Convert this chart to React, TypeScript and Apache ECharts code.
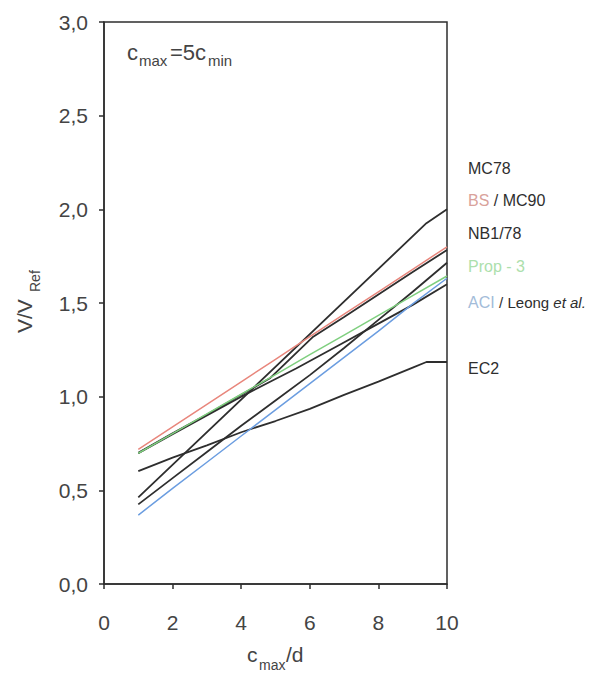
import React, { useEffect, useRef } from "react";
import * as echarts from "echarts";

// ---- data ----
const X = [1, 2, 3, 4, 5, 6, 7, 8, 9, 10];
const bsY = [0.719, 0.839, 0.959, 1.079, 1.199, 1.32, 1.44, 1.56, 1.68, 1.8];
const prop3Y = [0.698, 0.803, 0.908, 1.013, 1.118, 1.224, 1.329, 1.434, 1.539, 1.644];
const nb178Y = [0.425, 0.565, 0.705, 0.845, 0.98, 1.115, 1.26, 1.41, 1.56, 1.715];
const aciY = [0.368, 0.51, 0.65, 0.79, 0.93, 1.07, 1.21, 1.35, 1.495, 1.632];
const leongX = [1, 2, 3, 4, 4.9, 5.6, 6.9, 8, 9, 10];
const leongY = [0.698, 0.8, 0.9, 1.0, 1.085, 1.15, 1.28, 1.39, 1.49, 1.6];
const mc90X = [1, 2, 3, 4, 4.85, 6.1, 7, 8, 9, 10];
const mc90Y = [0.7, 0.805, 0.905, 1.01, 1.1, 1.32, 1.425, 1.545, 1.665, 1.783];
const mc78X = [1, 9.4, 10];
const mc78Y = [0.462, 1.926, 2.0];
const ec2X = [1, 2, 3, 4, 5, 6, 7, 8, 9, 9.4, 10];
const ec2Y = [0.603, 0.675, 0.74, 0.81, 0.87, 0.935, 1.01, 1.08, 1.155, 1.185, 1.185];

const xTicks = [0, 2, 4, 6, 8, 10];
const yTicks = [0, 0.5, 1.0, 1.5, 2.0, 2.5, 3.0];

const FONT = "'Liberation Sans', Arial, sans-serif";
const DARK = "#2e2e2e";
const TXT = "#444444";

const zip = (xs: number[], ys: number[]) => xs.map((x, i) => [x, ys[i]]);

export default function App() {
  const ref = useRef<HTMLDivElement>(null);
  useEffect(() => {
    if (!ref.current) return;
    const chart = echarts.init(ref.current, undefined, { renderer: "svg" });
    const line = (name: string, data: number[][], color: string, width = 1.8) => ({
      name,
      type: "line",
      data,
      symbol: "none",
      lineStyle: { color, width },
      itemStyle: { color },
      silent: true,
    });
    chart.setOption({
      animation: false,
      backgroundColor: "#ffffff",
      grid: {
        left: 104,
        right: 161,
        top: 22,
        bottom: 92,
        show: true,
        borderColor: DARK,
        borderWidth: 1.5,
      },
      xAxis: {
        type: "value",
        min: xTicks[0],
        max: xTicks[xTicks.length - 1],
        interval: 2,
        axisLine: { lineStyle: { color: DARK, width: 1.5 } },
        axisTick: { show: true, length: 5, lineStyle: { color: DARK, width: 1.5 } },
        splitLine: { show: false },
        axisLabel: { color: TXT, fontSize: 21, fontFamily: FONT, margin: 28 },
      },
      yAxis: {
        type: "value",
        min: yTicks[0],
        max: yTicks[yTicks.length - 1],
        interval: 0.5,
        axisLine: { show: true, lineStyle: { color: DARK, width: 1.5 } },
        axisTick: { show: true, length: 5, lineStyle: { color: DARK, width: 1.5 } },
        splitLine: { show: false },
        axisLabel: {
          color: TXT,
          fontSize: 21,
          fontFamily: FONT,
          margin: 16,
          formatter: (v: number) => v.toFixed(1).replace(".", ","),
        },
      },
      series: [
        line("MC78", zip(mc78X, mc78Y), DARK),
        line("MC90", zip(mc90X, mc90Y), DARK),
        line("NB1/78", zip(X, nb178Y), DARK),
        line("Leong et al.", zip(leongX, leongY), DARK),
        line("EC2", zip(ec2X, ec2Y), DARK),
        line("BS", zip(X, bsY), "#e8867c", 1.5),
        line("Prop - 3", zip(X, prop3Y), "#7fcf7f", 1.5),
        line("ACI", zip(X, aciY), "#6b9de0", 1.5),
      ],
      graphic: [
        // annotation c_max = 5 c_min
        { type: "text", x: 127, y: 52, style: { text: "c", font: `22px ${FONT}`, fill: TXT, verticalAlign: "middle" } },
        { type: "text", x: 139, y: 60, style: { text: "max", font: `15px ${FONT}`, fill: TXT, verticalAlign: "middle" } },
        { type: "text", x: 170, y: 52, style: { text: "=5c", font: `22px ${FONT}`, fill: TXT, verticalAlign: "middle" } },
        { type: "text", x: 208, y: 60, style: { text: "min", font: `15px ${FONT}`, fill: TXT, verticalAlign: "middle" } },
        // x axis title c_max/d
        { type: "text", x: 247, y: 654, style: { text: "c", font: `21px ${FONT}`, fill: TXT, verticalAlign: "middle" } },
        { type: "text", x: 259, y: 665, style: { text: "max", font: `14px ${FONT}`, fill: TXT, verticalAlign: "middle" } },
        { type: "text", x: 286, y: 654, style: { text: "/d", font: `21px ${FONT}`, fill: TXT, verticalAlign: "middle" } },
        // y axis title V/V_Ref (rotated)
        {
          type: "group",
          x: 0,
          y: 333,
          rotation: Math.PI / 2,
          children: [
            { type: "text", x: 0, y: 24.6, style: { text: "V/V", font: `21px ${FONT}`, fill: TXT, verticalAlign: "middle" } },
            { type: "text", x: 41, y: 35, style: { text: "Ref", font: `14px ${FONT}`, fill: TXT, verticalAlign: "middle" } },
          ],
        },
        // right-hand series labels
        { type: "text", x: 468, y: 168, style: { text: "MC78", font: `16px ${FONT}`, fill: DARK, verticalAlign: "middle" } },
        {
          type: "text",
          x: 468,
          y: 200,
          style: {
            text: "{r|BS} {k|/ MC90}",
            verticalAlign: "middle",
            rich: {
              r: { fill: "#d9a29b", font: `16px ${FONT}` },
              k: { fill: DARK, font: `16px ${FONT}` },
            },
            font: `16px ${FONT}`,
          },
        },
        { type: "text", x: 468, y: 233, style: { text: "NB1/78", font: `16px ${FONT}`, fill: DARK, verticalAlign: "middle" } },
        { type: "text", x: 468, y: 266, style: { text: "Prop - 3", font: `16px ${FONT}`, fill: "#ace0ac", verticalAlign: "middle" } },
        {
          type: "text",
          x: 468,
          y: 302,
          style: {
            text: "{b|ACI} {k|/ Leong }{i|et al.}",
            verticalAlign: "middle",
            rich: {
              b: { fill: "#a3bcd9", font: `16px ${FONT}` },
              k: { fill: DARK, font: `15px ${FONT}` },
              i: { fill: DARK, font: `italic 15px ${FONT}` },
            },
            font: `16px ${FONT}`,
          },
        },
        { type: "text", x: 468, y: 368, style: { text: "EC2", font: `16px ${FONT}`, fill: DARK, verticalAlign: "middle" } },
      ],
    });
    return () => chart.dispose();
  }, []);
  return (
    <div
      ref={ref}
      style={{ position: "absolute", left: 0, top: 0, width: 608, height: 676 }}
    />
  );
}
